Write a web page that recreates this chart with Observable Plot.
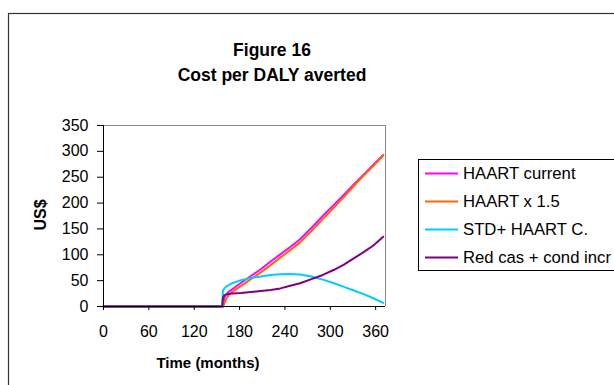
<!DOCTYPE html>
<html>
<head>
<meta charset="utf-8">
<script src="https://cdn.jsdelivr.net/npm/d3@7"></script>
<script src="https://cdn.jsdelivr.net/npm/@observablehq/plot@0.6"></script>
<style>
  html, body { margin: 0; padding: 0; background: #fff; }
  svg { display: block; }
</style>
</head>
<body>
<div id="chart"></div>
<script>
// ---- Data ----
const months = [0, 157, 158, 160, 162, 165, 170, 182, 195, 208, 221, 234, 247, 260, 275, 290, 305, 318, 331, 344, 357, 370];

const haartCurrent = [0, 0, 0, 18, 23, 28, 33, 46, 59, 72, 87, 101, 115, 130, 152, 175, 197, 216, 236, 255, 274, 293];
const haartX15     = [0, 0, 0, 6, 14, 21, 28, 40, 53, 66, 80, 95, 109, 124, 146, 169, 192, 212, 233, 253, 272, 292];
const stdHaartC    = [0, 0, 31, 35, 38, 41, 45, 51, 55, 58, 61, 62.5, 63, 62, 58, 52, 45, 38, 31, 24, 16, 7];
const redCasCond   = [0, 0, 17, 22, 23, 24, 25, 26, 28, 30, 32, 35, 40, 45, 53, 61, 71, 81, 93, 105, 118, 135];

const seriesNames  = ["HAART current", "HAART x 1.5", "STD+ HAART C.", "Red cas + cond incr"];
const seriesValues = [haartCurrent, haartX15, stdHaartC, redCasCond];
const seriesColors = ["#ff00ff", "#ff6600", "#00ccff", "#800080"];

const xTicks = [0, 60, 120, 180, 240, 300, 360];
const yTicks = [0, 50, 100, 150, 200, 250, 300, 350];

const titleLines = ["Figure 16", "Cost per DALY averted"];
const xLabel = "Time (months)";
const yLabel = "US$";

// ---- Build table ----
const data = seriesNames.flatMap((name, s) =>
  months.map((m, i) => ({ month: m, value: seriesValues[s][i], series: name }))
);

const font = "'Liberation Sans', Arial, Helvetica, sans-serif";

const chart = Plot.plot({
  width: 614,
  height: 385,
  marginLeft: 103,
  marginRight: 229,
  marginTop: 125,
  marginBottom: 79,
  x: { domain: [0, 373] },
  y: { domain: [0, 350] },
  color: { domain: seriesNames, range: seriesColors },
  style: { fontFamily: font, fontSize: "16px", color: "#000", background: "#fff", overflow: "visible" },
  marks: [
    Plot.ruleY([350], { stroke: "#888", strokeWidth: 1 }),
    Plot.ruleX([373], { stroke: "#888", strokeWidth: 1 }),
    Plot.line(data, { x: "month", y: "value", stroke: "series", strokeWidth: 2 }),
    Plot.ruleX([0], { stroke: "#000" }),
    Plot.ruleY([0], { stroke: "#000" }),
    Plot.axisX({ ticks: xTicks, tickSize: 4, tickPadding: 15, fontSize: 16, label: null, stroke: "#000" }),
    Plot.axisY({ ticks: yTicks, tickSize: 6, tickPadding: 9, fontSize: 16, label: null, stroke: "#000" })
  ]
});

document.getElementById("chart").appendChild(chart);

// ---- Decorations: outer border, title, axis titles, legend ----
const svg = d3.select(chart);

svg.insert("rect", ":first-child")
  .attr("x", 8.5).attr("y", 13.5).attr("width", 620).attr("height", 390)
  .attr("fill", "none").attr("stroke", "#333").attr("stroke-width", 1.2);

svg.append("g").selectAll("text").data(titleLines).join("text")
  .attr("x", 272).attr("y", (d, i) => 56 + i * 25)
  .attr("text-anchor", "middle")
  .style("font-family", font).style("font-weight", "bold").style("font-size", "17.5px")
  .attr("fill", "#000")
  .text(d => d);

svg.append("text")
  .attr("x", 208).attr("y", 368)
  .attr("text-anchor", "middle")
  .style("font-family", font).style("font-weight", "bold").style("font-size", "15px")
  .attr("fill", "#000")
  .text(xLabel);

svg.append("text")
  .attr("transform", "translate(45.5,215) rotate(-90)")
  .attr("text-anchor", "middle")
  .style("font-family", font).style("font-weight", "bold").style("font-size", "16px")
  .attr("fill", "#000")
  .text(yLabel);

const legend = svg.append("g").attr("text-anchor", "start");
legend.append("rect")
  .attr("x", 418.5).attr("y", 159.5).attr("width", 220).attr("height", 111)
  .attr("fill", "#fff").attr("stroke", "#000").attr("stroke-width", 1);

const rows = legend.selectAll("g.row").data(seriesNames).join("g")
  .attr("transform", (d, i) => `translate(0,${173.5 + i * 28})`);
rows.append("line")
  .attr("x1", 425).attr("x2", 458).attr("y1", 0).attr("y2", 0)
  .attr("stroke", (d, i) => seriesColors[i]).attr("stroke-width", 2);
rows.append("text")
  .attr("x", 463).attr("y", 0).attr("dy", "0.35em")
  .attr("text-anchor", "start")
  .style("font-family", font).style("font-size", "16.7px")
  .attr("fill", "#000")
  .text(d => d);
</script>
</body>
</html>
